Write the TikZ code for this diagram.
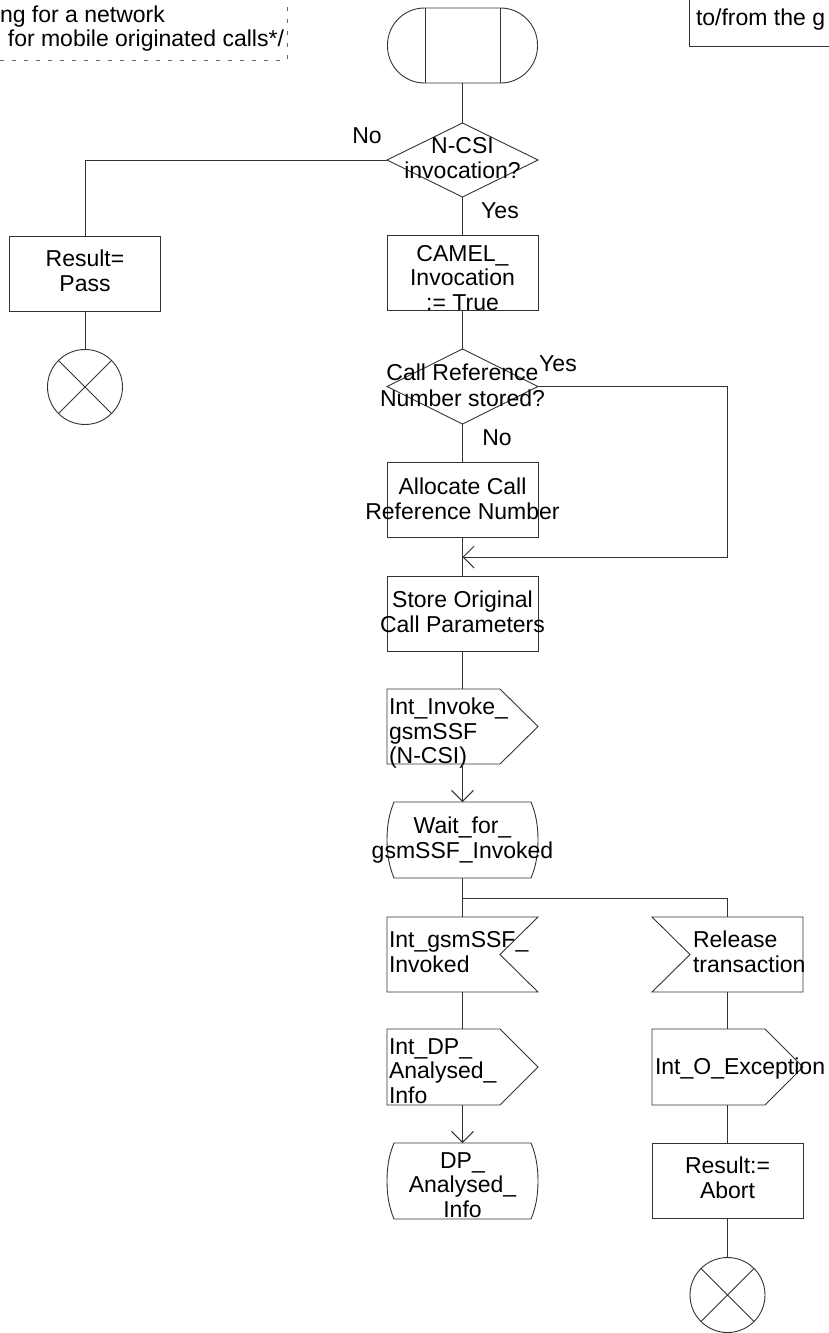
\documentclass[tikz,border=0pt]{standalone}
\usepackage{fontspec}
\setmainfont{Liberation Sans}
\usetikzlibrary{arrows.meta}
\begin{document}
\begin{tikzpicture}[x=1pt,y=-1pt,
  every node/.style={font=\fontsize{23}{24.5}\selectfont, inner sep=0pt, outer sep=0pt},
  ln/.style={draw=black!80, line width=0.9pt},
  frame/.style={rectangle, minimum width=151pt, minimum height=75pt},
  boxshape/.style={frame, draw=black!80, line width=0.9pt},
  txt/.style={align=center},
  ltxt/.style={align=left, anchor=west},
  endc/.style={circle, draw=black!80, minimum size=75pt, line width=0.9pt},
  arr/.style={ln, -{Straight Barb[length=11pt,width=22pt]}},
  cmt/.style={draw=black!60, line width=0.8pt, dash pattern=on 4pt off 8pt}
]
\useasboundingbox (0,0) rectangle (829,1333);

% comments
\node[anchor=base west] (c1a) at (0,22.5) {ng for a network};
\node[anchor=base east] (c1b) at (284,46.5) {for mobile originated calls*/};
\draw[cmt] (0,60) -- (287,60) -- (287,3) -- (283,3);
\draw[ln] (689,-5) -- (689,46) -- (835,46);
\node[anchor=base west] (c2) at (696,25) {to/from the g};

% start
\node[draw=black!80, line width=0.9pt, rounded corners=37pt, minimum width=150pt, minimum height=75pt] (start) at (462.5,45.5) {};
\draw[ln] ([xshift=37.5pt]start.north west) -- ([xshift=37.5pt]start.south west);
\draw[ln] ([xshift=-37.5pt]start.north east) -- ([xshift=-37.5pt]start.south east);

% decision 1
\node[frame, minimum height=74pt] (d1) at (462.5,160) {};
\draw[ln] (d1.north) -- (d1.east) -- (d1.south) -- (d1.west) -- cycle;
\node[txt] (d1t) at (462.5,158) {N-CSI\\invocation?};
\node (no1) at (367,136) {No};
\node (yes1) at (500,211) {Yes};

% left branch
\node[boxshape] (pass) at (85,273.5) {};
\node[txt] (passt) at (85,271) {Result=\\Pass};
\node[endc] (end1) at (85,387) {};
\draw[ln] (end1.north west) -- (end1.south east) (end1.north east) -- (end1.south west);

% camel
\node[boxshape] (camel) at (462.5,273) {};
\node[txt] (camelt) at (462.5,278) {CAMEL\_\\Invocation\\:= True};

% decision 2
\node[frame] (d2) at (462.5,386.5) {};
\draw[ln] (d2.north) -- (d2.east) -- (d2.south) -- (d2.west) -- cycle;
\node[txt] (d2t) at (462.5,385) {Call Reference\\[1.5pt]Number stored?};
\node (yes2) at (558,364) {Yes};
\node (no2) at (497,438) {No};

% allocate
\node[boxshape] (alloc) at (462.5,500) {};
\node[txt] (alloct) at (462.5,499) {Allocate Call\\Reference Number};
\coordinate (join) at (462.5,557);
\coordinate (loop) at (727.5,557);

% store
\node[boxshape] (store) at (462.5,613.5) {};
\node[txt] (storet) at (462.5,612) {Store Original\\Call Parameters};

% output Int_Invoke_gsmSSF
\node[frame] (inv) at (462.5,726.5) {};
\draw[ln] (inv.north west) -- ([xshift=-38pt]inv.north east) -- (inv.east) -- ([xshift=-38pt]inv.south east) -- (inv.south west) -- cycle;
\node[ltxt] (invt) at (389,733.5) {Int\_Invoke\_\\gsmSSF\\(N-CSI)};

% state wait
\node[frame, minimum height=76pt] (wait) at (462.5,840) {};
\draw[ln] ([xshift=7pt]wait.north west) -- ([xshift=-7pt]wait.north east)
  .. controls +(5,12) and +(0,-14) .. (wait.east)
  .. controls +(0,14) and +(5,-12) .. ([xshift=-7pt]wait.south east)
  -- ([xshift=7pt]wait.south west)
  .. controls +(-5,-12) and +(0,14) .. (wait.west)
  .. controls +(0,-14) and +(-5,12) .. ([xshift=7pt]wait.north west);
\node[txt] (waitt) at (462.5,840) {Wait\_for\_\\gsmSSF\_Invoked};
\coordinate (fork) at (462.5,898);

% input Int_gsmSSF_Invoked
\node[frame] (gin) at (462.5,954.5) {};
\draw[ln] (gin.north west) -- (gin.north east) -- ([xshift=-38pt]gin.east) -- (gin.south east) -- (gin.south west) -- cycle;
\node[ltxt] (gint) at (389,952) {Int\_gsmSSF\_\\Invoked};

% input Release transaction
\node[frame] (rel) at (727.5,954.5) {};
\draw[ln] (rel.north west) -- (rel.north east) -- (rel.south east) -- (rel.south west) -- ([xshift=38pt]rel.west) -- cycle;
\node[ltxt] (relt) at (693,952) {Release\\transaction};

% output Int_DP_Analysed_Info
\node[frame, minimum height=76pt] (dp) at (462.5,1067) {};
\draw[ln] (dp.north west) -- ([xshift=-38pt]dp.north east) -- (dp.east) -- ([xshift=-38pt]dp.south east) -- (dp.south west) -- cycle;
\node[ltxt] (dpt) at (389,1071) {Int\_DP\_\\Analysed\_\\Info};

% output Int_O_Exception
\node[frame, minimum height=76pt] (exc) at (727.5,1067) {};
\draw[ln] (exc.north west) -- ([xshift=-38pt]exc.north east) -- (exc.east) -- ([xshift=-38pt]exc.south east) -- (exc.south west) -- cycle;
\node[ltxt] (exct) at (655,1069) {Int\_O\_Exception};

% state DP_Analysed_Info
\node[frame, minimum height=76pt] (dps) at (462.5,1181) {};
\draw[ln] ([xshift=7pt]dps.north west) -- ([xshift=-7pt]dps.north east)
  .. controls +(5,12) and +(0,-14) .. (dps.east)
  .. controls +(0,14) and +(5,-12) .. ([xshift=-7pt]dps.south east)
  -- ([xshift=7pt]dps.south west)
  .. controls +(-5,-12) and +(0,14) .. (dps.west)
  .. controls +(0,-14) and +(-5,12) .. ([xshift=7pt]dps.north west);
\node[txt] (dpst) at (462.5,1185) {DP\_\\Analysed\_\\Info};

% abort
\node[boxshape] (abort) at (727.5,1181) {};
\node[txt] (abortt) at (727.5,1178) {Result:=\\Abort};
\node[endc] (end2) at (727.5,1295) {};
\draw[ln] (end2.north west) -- (end2.south east) (end2.north east) -- (end2.south west);

% connectors
\draw[ln] (start.south) -- (d1.north);
\draw[ln] (d1.west) -| (pass.north);
\draw[ln] (pass.south) -- (end1.north);
\draw[ln] (d1.south) -- (camel.north);
\draw[ln] (camel.south) -- (d2.north);
\draw[ln] (d2.south) -- (alloc.north);
\draw[arr] (d2.east) -| (loop) -- (join);
\draw[ln] (alloc.south) -- (store.north);
\draw[ln] (store.south) -- (inv.north);
\draw[arr] (inv.south) -- (wait.north);
\draw[ln] (wait.south) -- (fork) -| (rel.north);
\draw[ln] (fork) -- (gin.north);
\draw[ln] (gin.south) -- (dp.north);
\draw[arr] (dp.south) -- (dps.north);
\draw[ln] (rel.south) -- (exc.north);
\draw[ln] (exc.south) -- (abort.north);
\draw[ln] (abort.south) -- (end2.north);
\end{tikzpicture}
\end{document}
